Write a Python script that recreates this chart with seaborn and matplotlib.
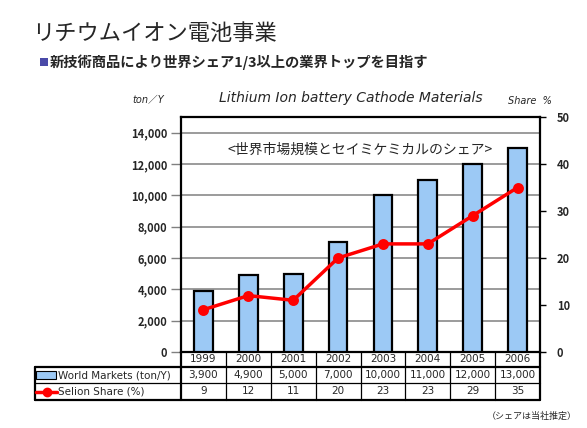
import matplotlib
matplotlib.use("Agg")
import matplotlib.pyplot as plt
import seaborn as sns
import numpy as np
from matplotlib.patches import Rectangle
from matplotlib.lines import Line2D

years = ["1999", "2000", "2001", "2002", "2003", "2004", "2005", "2006"]
markets = [3900, 4900, 5000, 7000, 10000, 11000, 12000, 13000]
share = [9, 12, 11, 20, 23, 23, 29, 35]
market_labels = ["3,900", "4,900", "5,000", "7,000", "10,000", "11,000", "12,000", "13,000"]
share_labels = ["9", "12", "11", "20", "23", "23", "29", "35"]
left_ticks = [0, 2000, 4000, 6000, 8000, 10000, 12000, 14000]
right_ticks = [0, 10, 20, 30, 40, 50]

BAR = "#9cc9f5"
RED = "#ff0000"
W, H = 587, 428
LAT = ["DejaVu Sans", "Noto Sans CJK JP"]

sns.set_theme(style="white")
plt.rcParams["font.family"] = ["Noto Sans CJK JP", "DejaVu Sans"]

fig = plt.figure(figsize=(W / 100, H / 100), dpi=100)
fig.patch.set_facecolor("white")

# plot area in pixels: x 181..540, y 117..352
ax = fig.add_axes([181 / W, (H - 352) / H, (540 - 181) / W, (352 - 117) / H])
ax.set_facecolor("white")

sns.barplot(x=years, y=markets, color=BAR, edgecolor="black", linewidth=1.6,
            width=0.42, saturation=1, ax=ax, zorder=3)
ax.set_ylim(0, 15000)
ax.set_xlim(-0.5, len(years) - 0.5)
ax.set_yticks(left_ticks)
ax.set_yticklabels([f"{v:,}" for v in left_ticks], fontsize=8, fontweight="bold")
for v in left_ticks[1:]:
    ax.axhline(v, color="#808080", lw=1.1, zorder=1)
ax.tick_params(axis="y", which="both", left=True, length=7, width=1, color="#808080",
               pad=3, direction="out")
ax.set_xticks([])
ax.set_xlabel("")
ax.set_ylabel("")
for s in ax.spines.values():
    s.set_color("black")
    s.set_linewidth(1.6)

ax2 = ax.twinx()
sns.pointplot(x=years, y=share, color=RED, markers="o", markersize=6,
              linewidth=2.5, ax=ax2, zorder=5)
ax2.set_ylim(0, 50)
ax2.set_xlim(-0.5, len(years) - 0.5)
ax2.set_yticks(right_ticks)
ax2.set_yticklabels([str(v) for v in right_ticks], fontsize=8, fontweight="bold")
ax2.tick_params(axis="y", right=True, length=4, width=1, color="black", pad=8, direction="out")
ax2.set_xticks([])
ax2.set_xlabel("")
ax2.set_ylabel("")
for s in ax2.spines.values():
    s.set_visible(False)

# in-plot caption
ax.text(0.5, 0.86, "<世界市場規模とセイミケミカルのシェア>", transform=ax.transAxes,
        ha="center", va="center", fontsize=10, zorder=6)

# ---- table below the plot ----
tr = ax.get_xaxis_transform()
ph = 352 - 117
r1, r2, r3 = -15 / ph, -31 / ph, -48 / ph
n = len(years)
cw = (540 - 181) / n


def px2x(px):
    return -0.5 + (px - 181) / cw


xl = px2x(35)


def hline(y, x0, x1, lw=1.0):
    ax.add_line(Line2D([x0, x1], [y, y], transform=tr, color="black", lw=lw, clip_on=False))


def vline(x, y0, y1, lw=1.0):
    ax.add_line(Line2D([x, x], [y0, y1], transform=tr, color="black", lw=lw, clip_on=False))


hline(r1, -0.5, n - 0.5, 1.6)
hline(r2, xl, n - 0.5, 0.9)
hline(r3, xl, n - 0.5, 1.6)
hline(r1, xl, -0.5, 1.6)
for i in range(n + 1):
    vline(i - 0.5, 0, r3, 1.6 if i in (0, n) else 0.9)
vline(xl, r1, r3, 1.6)

for i in range(n):
    for y, lab in (((0 + r1) / 2, years[i]), ((r1 + r2) / 2, market_labels[i]),
                   ((r2 + r3) / 2, share_labels[i])):
        ax.text(i, y, lab, transform=tr, ha="center", va="center",
                fontsize=7.5, family=LAT, clip_on=False)

# legend keys in the label column
ax.add_patch(Rectangle((px2x(36), r2 + 4 / ph), px2x(56) - px2x(36), 8 / ph, transform=tr,
                       facecolor=BAR, edgecolor="black", lw=0.8, clip_on=False))
ax.add_line(Line2D([px2x(36), px2x(57)], [(r2 + r3) / 2] * 2, transform=tr, color=RED,
                   lw=2.5, clip_on=False))
ax.add_line(Line2D([px2x(46.5)], [(r2 + r3) / 2], transform=tr, color=RED, marker="o",
                   markersize=6, clip_on=False))
ax.text(px2x(58), (r1 + r2) / 2, "World Markets (ton/Y)", transform=tr, ha="left",
        va="center", fontsize=7.5, family=LAT, clip_on=False)
ax.text(px2x(58), (r2 + r3) / 2, "Selion Share (%)", transform=tr, ha="left",
        va="center", fontsize=7.5, family=LAT, clip_on=False)


# ---- page texts ----
def fx(px):
    return px / W


def fy(py):
    return 1 - py / H


fig.text(fx(32), fy(33), "リチウムイオン電池事業", ha="left", va="center", fontsize=16)
fig.patches.append(Rectangle((fx(40), fy(66)), 8 / W, 8 / H, transform=fig.transFigure,
                             facecolor="#4a4aa8", edgecolor="none"))
fig.text(fx(50), fy(62), "新技術商品により世界シェア1/3以上の業界トップを目指す", ha="left",
         va="center", fontsize=10.3, fontweight="bold")
fig.text(fx(132), fy(100), "ton／Y", ha="left", va="center", fontsize=7, style="italic",
         family=LAT)
fig.text(fx(351), fy(98), "Lithium Ion battery Cathode Materials", ha="center", va="center",
         fontsize=10, style="italic", family=LAT)
fig.text(fx(508), fy(101), "Share  %", ha="left", va="center", fontsize=7, style="italic",
         family=LAT)
fig.text(fx(577), fy(416), "（シェアは当社推定）", ha="right", va="center", fontsize=6.5)

fig.savefig("out.png", dpi=100)
